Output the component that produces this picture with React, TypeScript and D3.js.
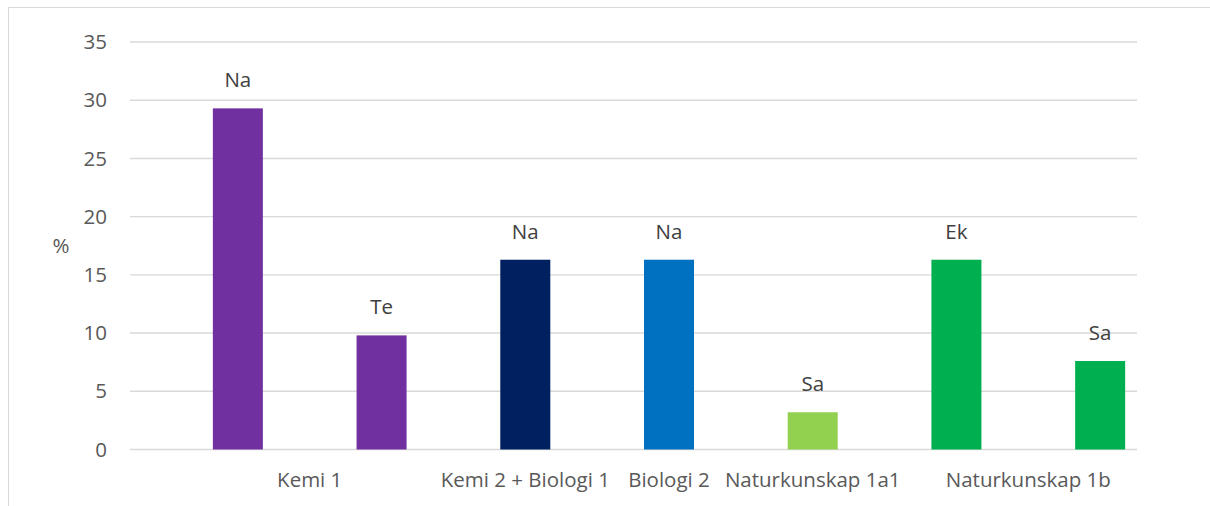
import { useEffect, useRef } from "react";
import * as d3 from "d3";

const W = 1210;
const H = 506;
const GRID_X0 = 130;
const GRID_X1 = 1137;

const barValues = [29.3, 9.8, 16.3, 16.3, 3.2, 16.3, 7.6];
const barLabels = ["Na", "Te", "Na", "Na", "Sa", "Ek", "Sa"];
const barColors = ["#7030A0", "#7030A0", "#002060", "#0070C0", "#92D050", "#00B050", "#00B050"];
const groups = ["Kemi 1", "Kemi 2 + Biologi 1", "Biologi 2", "Naturkunskap 1a1", "Naturkunskap 1b"];
const groupOfBar = [0, 0, 1, 2, 3, 4, 4];
const yTicks = [0, 5, 10, 15, 20, 25, 30, 35];

const FONT = "'Open Sans', sans-serif";
const FS = 20.5;
const TEXT = "#595959";
const GRID = "#d9d9d9";

export default function App() {
  const svgRef = useRef<SVGSVGElement>(null);

  useEffect(() => {
    if (!svgRef.current) return;
    const root = d3.select(svgRef.current);
    root.selectAll("*").remove();

    const x = d3
      .scaleBand<number>()
      .domain(d3.range(barValues.length))
      .range([166, 1172])
      .paddingInner(0.652)
      .paddingOuter(0.326);

    const y = d3.scaleLinear().domain([0, 35]).range([449.5, 42]);

    // chart frame (only left and top edges visible)
    root
      .append("rect")
      .attr("x", 8.5)
      .attr("y", 7.5)
      .attr("width", W + 10)
      .attr("height", H + 10)
      .attr("fill", "none")
      .attr("stroke", GRID)
      .attr("stroke-width", 1);

    // gridlines
    root
      .append("g")
      .selectAll("line")
      .data(yTicks)
      .join("line")
      .attr("x1", GRID_X0)
      .attr("x2", GRID_X1)
      .attr("y1", (d) => y(d))
      .attr("y2", (d) => y(d))
      .attr("stroke", GRID)
      .attr("stroke-width", 1.4);

    // y tick labels
    root
      .append("g")
      .selectAll("text")
      .data(yTicks)
      .join("text")
      .attr("x", 107)
      .attr("y", (d) => y(d))
      .attr("dy", "0.35em")
      .attr("text-anchor", "end")
      .attr("font-family", FONT)
      .attr("font-size", FS)
      .attr("fill", TEXT)
      .text((d) => d);

    root
      .append("text")
      .attr("x", 61)
      .attr("y", y(17.5))
      .attr("dy", "0.35em")
      .attr("text-anchor", "middle")
      .attr("font-family", FONT)
      .attr("font-size", FS)
      .attr("fill", TEXT)
      .text("%");

    // bars
    root
      .append("g")
      .selectAll("rect")
      .data(barValues)
      .join("rect")
      .attr("x", (_, i) => x(i)!)
      .attr("y", (d) => y(d))
      .attr("width", x.bandwidth())
      .attr("height", (d) => y(0) - y(d))
      .attr("fill", (_, i) => barColors[i]);

    // data labels
    root
      .append("g")
      .selectAll("text")
      .data(barValues)
      .join("text")
      .attr("x", (_, i) => x(i)! + x.bandwidth() / 2)
      .attr("y", (d) => y(d) - 21)
      .attr("text-anchor", "middle")
      .attr("font-family", FONT)
      .attr("font-size", FS)
      .attr("fill", "#404040")
      .text((_, i) => barLabels[i]);

    // category labels, centred under each group's bars
    groups.forEach((g, gi) => {
      const idx = groupOfBar.map((v, i) => (v === gi ? i : -1)).filter((i) => i >= 0);
      const x0 = x(idx[0])!;
      const x1 = x(idx[idx.length - 1])! + x.bandwidth();
      root
        .append("text")
        .attr("x", (x0 + x1) / 2)
        .attr("y", 487)
        .attr("text-anchor", "middle")
        .attr("font-family", FONT)
        .attr("font-size", FS)
        .attr("fill", TEXT)
        .text(g);
    });
  }, []);

  return (
    <svg
      ref={svgRef}
      width={W}
      height={H}
      viewBox={`0 0 ${W} ${H}`}
      style={{ position: "absolute", left: 0, top: 0, background: "#fff" }}
    />
  );
}
